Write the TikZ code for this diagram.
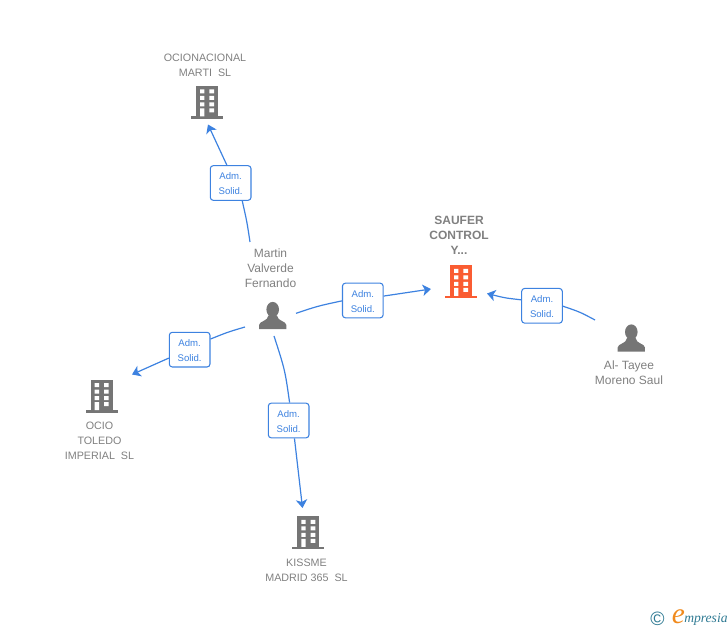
\documentclass[tikz,border=0pt]{standalone}
\usepackage{fontspec}
\setmainfont{Liberation Sans}
\newfontfamily\logofont{Liberation Serif}
\usetikzlibrary{arrows.meta}
\definecolor{ink}{HTML}{808080}
\definecolor{icon}{HTML}{757575}
\definecolor{hot}{HTML}{FA5C32}
\definecolor{link}{HTML}{3D82E0}
\definecolor{logoblue}{HTML}{2F7A93}
\definecolor{logoorange}{HTML}{F08A1D}
\newcommand\roletext{\rule{0pt}{6.7pt}Adm.\\Solid.}
\tikzset{
  conn/.style={link,line width=.9pt},
  arr/.style={conn,-{Stealth[length=6.2pt,width=8.5pt,inset=1.6pt]}},
  rolebox/.style={draw=link,line width=.8pt,rounded corners=2.2pt,fill=white,minimum width=30.5pt,minimum height=26pt,inner sep=0pt,align=center,text=link,font=\fontsize{7.2}{11.25}\selectfont},
  lbl/.style={align=center,text=ink,inner sep=0pt,font=\fontsize{9}{11.25}\selectfont},
  firmlbl/.style={lbl,font=\fontsize{8.05}{11.25}\selectfont},
  bldlbl/.style={lbl,font=\fontsize{9}{11.25}\selectfont\bfseries},
  building/.pic={
    \fill[pic actions] (-11,-33) rectangle (11,-2);
    \fill[pic actions] (-16,-2.5) rectangle (16,0);
    \fill[white]
      (-7,-29.5) rectangle (-2.7,-25.5) (2.3,-29.5) rectangle (7,-25.5)
      (-7,-23) rectangle (-2.7,-19) (2.3,-23) rectangle (7,-19)
      (-7,-16.5) rectangle (-2.7,-12.5) (2.3,-16.5) rectangle (7,-12.5)
      (-7,-10.5) rectangle (-2.7,-2.5) (2.3,-10.5) rectangle (7,-6.5);
  },
  person/.pic={
    \fill[pic actions] (0,-6) ellipse (6.3 and 7.6);
    \fill[pic actions] (-13.6,13.6) -- (-13.6,9.5) .. controls (-13.6,5.5) and (-5,6) .. (-4.2,0)
      -- (4.2,0) .. controls (5,6) and (13.6,5.5) .. (13.6,9.5) -- (13.6,13.6) -- cycle;
  }
}
\begin{document}
\begin{tikzpicture}[x=.75pt,y=-.75pt]
\useasboundingbox (0,0) rectangle (728,630);
% icons
\pic[fill=icon] at (207,119) {building};
\pic[fill=hot] at (461,298.3) {building};
\pic[fill=icon] at (101.7,412.7) {building};
\pic[fill=icon] at (308.3,549.3) {building};
\pic[fill=icon] at (272.7,315.5) {person};
\pic[fill=icon] at (631.3,338) {person};
% text
\node[firmlbl] (ocn) at (205,65) {OCIONACIONAL\\MARTI\ \ SL};
\node[bldlbl] (sau) at (459,235) {SAUFER\\CONTROL\\Y...};
\node[lbl] (mar) at (270.5,268) {Martin\\Valverde\\Fernando};
\node[lbl] (ala) at (629,372.5) {Al- Tayee\\Moreno Saul};
\node[firmlbl] (oci) at (99.5,440.5) {OCIO\\TOLEDO\\IMPERIAL\ \ SL};
\node[firmlbl] (kis) at (306.5,570) {KISSME\\MADRID 365\ \ SL};
% role boxes
\node[rolebox] (b1) at (230.65,183) {\roletext};
\node[rolebox] (b2) at (362.8,300.5) {\roletext};
\node[rolebox] (b3) at (542,305.8) {\roletext};
\node[rolebox] (b4) at (189.65,349.65) {\roletext};
\node[rolebox] (b5) at (288.65,420.5) {\roletext};
% free ends
\coordinate (s1) at (250,242);
\coordinate (t1) at (208,124.5);
\coordinate (s2) at (296,313.3);
\coordinate (t2) at (431,289);
\coordinate (s3) at (595,320);
\coordinate (t3) at (487,293.5);
\coordinate (s4) at (245,327);
\coordinate (t4) at (132,374.5);
\coordinate (s5) at (274,336);
\coordinate (t5) at (302.5,508);
% connectors
\draw[conn] (s1) .. controls (247,222) .. (b1.-57);
\draw[arr] (b1.102.6) -- (t1);
\draw[conn] (s2) .. controls (318,306) .. (b2.181);
\draw[arr] (b2.12.4) -- (t2);
\draw[conn] (s3) .. controls (580,312) .. (b3.-1);
\draw[arr] (b3.164) .. controls (505,298) .. (t3);
\draw[conn] (s4) .. controls (228,332) .. (b4.27.6);
\draw[arr] (b4.202.3) -- (t4);
\draw[conn] (s5) .. controls (285,370) .. (b5.87);
\draw[arr] (b5.-72.7) -- (t5);
% logo
\node[inner sep=0pt,text=logoblue,font=\fontsize{14.5}{14.5}\selectfont] (copy) at (657.5,618.5) {©};
\node[inner sep=0pt,text=logoorange,font=\logofont\itshape\fontsize{22}{22}\selectfont] (loge) at (678.5,616.5) {e};
\node[inner sep=0pt,anchor=west,text=logoblue,font=\logofont\itshape\fontsize{10.2}{10.2}\selectfont] (logt) at (684,619) {mpresia};
\end{tikzpicture}
\end{document}
